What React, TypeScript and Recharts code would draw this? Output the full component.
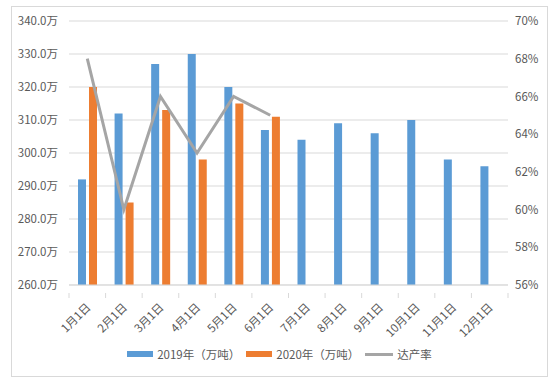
import React from "react";
import { ComposedChart, Bar, Line, XAxis, YAxis, CartesianGrid, Legend } from "recharts";

const months = ["1月1日", "2月1日", "3月1日", "4月1日", "5月1日", "6月1日", "7月1日", "8月1日", "9月1日", "10月1日", "11月1日", "12月1日"];
const output2019 = [292, 312, 327, 330, 320, 307, 304, 309, 306, 310, 298, 296];
const output2020: (number | null)[] = [320, 285, 313, 298, 315, 311, null, null, null, null, null, null];
const rate: (number | null)[] = [68, 60, 66, 63, 66, 65, null, null, null, null, null, null];
const leftTicks = [260, 270, 280, 290, 300, 310, 320, 330, 340];
const rightTicks = [56, 58, 60, 62, 64, 66, 68, 70];

const data = months.map((m, i) => ({ month: m, y2019: output2019[i], y2020: output2020[i], rate: rate[i] }));

const FONT = "'Noto Sans CJK SC', 'Noto Sans', sans-serif";
const TEXT = "#595959";
const W = 559;
const H = 384;
const LEFT = 69;
const RIGHT = 508;
const BAND = (RIGHT - LEFT) / months.length;

const XTick = (props: any) => {
  const { x, y, payload, index } = props;
  return (
    <g>
      <line x1={x - BAND / 2} x2={x - BAND / 2} y1={y - 0} y2={y + 5} stroke="#D9D9D9" />
      {index === months.length - 1 && (
        <line x1={x + BAND / 2} x2={x + BAND / 2} y1={y} y2={y + 5} stroke="#D9D9D9" />
      )}
      <text x={x + 4} y={y + 15} textAnchor="end" fontSize={11.5} fill={TEXT} fontFamily={FONT} transform={`rotate(-45 ${x + 4} ${y + 15})`}>
        {payload.value}
      </text>
    </g>
  );
};

const LegendContent = () => (
  <div style={{ display: "flex", justifyContent: "center", alignItems: "center", fontFamily: FONT, fontSize: 11.5, color: TEXT, gap: 0 }}>
    <span style={{ display: "inline-block", width: 26, height: 6, background: "#5B9BD5", marginRight: 4 }} />
    <span style={{ marginRight: 6 }}>2019年（万吨）</span>
    <span style={{ display: "inline-block", width: 26, height: 6, background: "#ED7D31", marginRight: 4 }} />
    <span style={{ marginRight: 6 }}>2020年（万吨）</span>
    <span style={{ display: "inline-block", width: 28, height: 3, background: "#A5A5A5", marginRight: 4 }} />
    <span>达产率</span>
  </div>
);

export default function App() {
  return (
    <div style={{ position: "absolute", left: 0, top: 0, width: W, height: H, background: "#fff" }}>
      <div style={{ position: "absolute", left: 11, top: 6, width: 535, height: 369, border: "1px solid #D9D9D9" }} />
      <div style={{ position: "absolute", left: 0, top: 0 }}>
        <ComposedChart width={W} height={H} data={data} margin={{ top: 21, right: 0, bottom: 0, left: 0 }} barSize={8} barGap={3}>
          <CartesianGrid vertical={false} stroke="#D9D9D9" yAxisId="left" />
          <XAxis dataKey="month" height={83} axisLine={{ stroke: "#D9D9D9" }} tickLine={false} tick={<XTick />} interval={0} />
          <YAxis yAxisId="left" orientation="left" width={LEFT} domain={[260, 340]} ticks={leftTicks} axisLine={false} tickLine={false} tickSize={0} tickMargin={11}
            tick={{ fontSize: 11.5, fill: TEXT, fontFamily: FONT }} tickFormatter={(v: number) => `${v.toFixed(1)}万`} />
          <YAxis yAxisId="right" orientation="right" width={W - RIGHT} domain={[56, 70]} ticks={rightTicks} axisLine={false} tickLine={false} tickSize={0} tickMargin={7}
            tick={{ fontSize: 11.5, fill: TEXT, fontFamily: FONT }} tickFormatter={(v: number) => `${v}%`} />
          <Bar yAxisId="left" dataKey="y2019" name="2019年（万吨）" fill="#5B9BD5" isAnimationActive={false} />
          <Bar yAxisId="left" dataKey="y2020" name="2020年（万吨）" fill="#ED7D31" isAnimationActive={false} />
          <Line yAxisId="right" dataKey="rate" name="达产率" stroke="#A5A5A5" strokeWidth={3} dot={false} activeDot={false} isAnimationActive={false} />
          <Legend content={<LegendContent />} wrapperStyle={{ position: "absolute", top: 346, left: 0, width: W }} />
        </ComposedChart>
      </div>
    </div>
  );
}
